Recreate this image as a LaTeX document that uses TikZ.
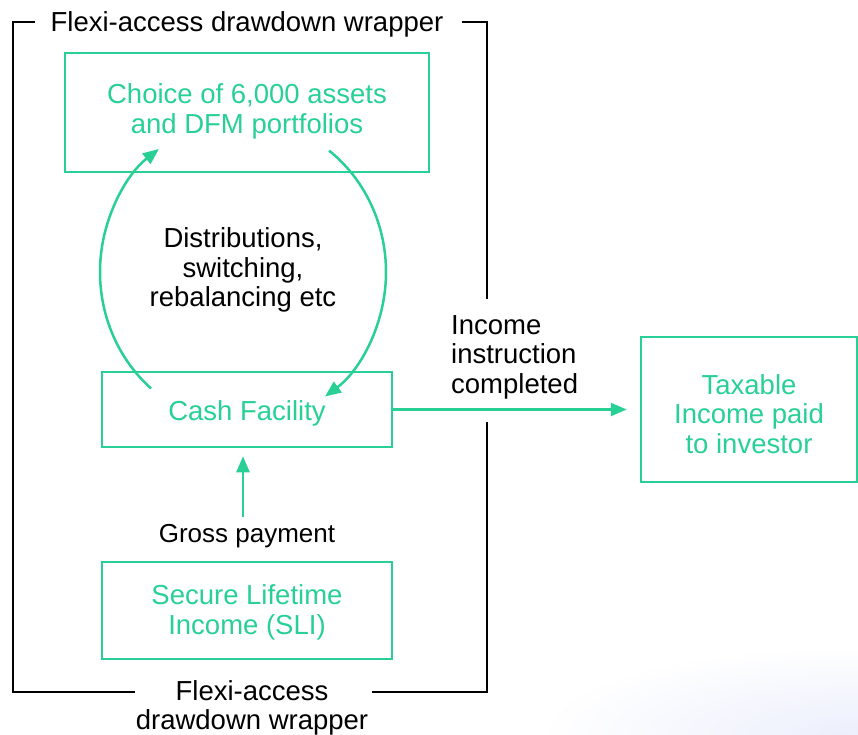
\documentclass[tikz,border=0pt]{standalone}
\usepackage{fontspec}
\setmainfont{Liberation Sans}
\usetikzlibrary{arrows.meta}
\definecolor{brandgreen}{RGB}{40,208,150}
\definecolor{tint}{RGB}{236,239,252}
\begin{document}
\begin{tikzpicture}[x=1pt,y=-1pt,
  txt/.style={font=\fontsize{27.5}{29.5}\selectfont, align=center, inner sep=0pt},
  box/.style={draw=brandgreen, line width=2.5pt, inner sep=0pt},
  gtxt/.style={txt, text=brandgreen},
  lbl/.style={txt, text=black},
  flow/.style={draw=brandgreen, line width=2.5pt, -{Triangle[length=16pt,width=13pt]}},
  wrap/.style={draw=black, line width=2.5pt}]
\useasboundingbox (0,0) rectangle (858,735);
\begin{scope}
  \clip (0,0) rectangle (858,735);
  \shade[inner color=tint, outer color=white] (858,735) ellipse [x radius=320, y radius=90];
\end{scope}
% boxes
\node[box, minimum width=364pt, minimum height=119pt] (assets) at (247,112.5) {};
\node[box, minimum width=290pt, minimum height=75pt] (cash) at (247,409.5) {};
\node[box, minimum width=290pt, minimum height=97pt] (sli) at (247,610.5) {};
\node[box, minimum width=216pt, minimum height=145pt] (tax) at (749,409.5) {};
\node[gtxt] (assetstext) at ([yshift=1pt]assets.center) {Choice of 6,000 assets\\and DFM portfolios};
\node[gtxt] (cashtext) at ([yshift=-3.5pt]cash.center) {Cash Facility};
\node[gtxt] (slitext) at ([yshift=-2pt]sli.center) {Secure Lifetime\\Income (SLI)};
\node[gtxt] (taxtext) at ([yshift=-4.5pt]tax.center) {Taxable\\Income paid\\to investor};
% labels
\node[lbl] (dist) at (243,270) {Distributions,\\switching,\\rebalancing etc};
\node[lbl, align=left, anchor=west] (instr) at (451,357) {Income\\instruction\\completed};
\node[lbl, font=\fontsize{26}{29.5}\selectfont] (gross) at (247,536) {Gross payment};
\node[lbl] (toplabel) at (247,24) {Flexi-access drawdown wrapper};
\node[lbl] (botlabel) at (252,708) {Flexi-access\\drawdown wrapper};
% wrapper
\coordinate (tl) at (13,22);
\coordinate (tr) at (487,22);
\coordinate (bl) at (13,692);
\coordinate (br) at (487,692);
\draw[wrap] (35,22) -- (tl) -- (bl) -- (135,692);
\draw[wrap] (372,692) -- (br) -- (487,422);
\draw[wrap] (487,299) -- (tr) -- (462,22);
% connectors
\draw[flow] (cash.east) -- ([xshift=-13pt]tax.west);
\coordinate (gs) at (243,517);
\draw[flow] (gs) -- ([yshift=-8pt]cash.south -| gs);
\coordinate (c) at (243,272);
\draw[flow] ([shift={(130:143 and 152)}]c) arc[start angle=130, end angle=234, x radius=143, y radius=152];
\draw[flow] ([shift={(-53:143 and 152)}]c) arc[start angle=-53, end angle=55, x radius=143, y radius=152];
\end{tikzpicture}
\end{document}
